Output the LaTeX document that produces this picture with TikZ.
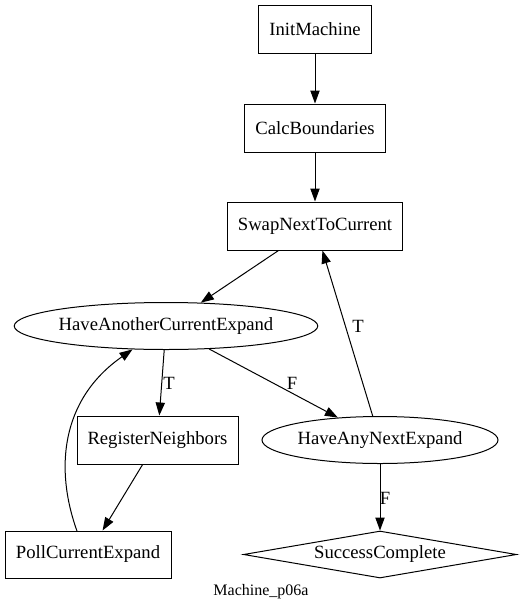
\documentclass[tikz,border=0pt]{standalone}
\usepackage{fontspec}
\setmainfont{Liberation Serif}
\usetikzlibrary{shapes.geometric,arrows.meta}
\begin{document}
\begin{tikzpicture}[x=1pt,y=-1pt,
  every node/.style={font=\fontsize{18.67}{22}\selectfont, inner sep=0pt},
  box/.style={draw, line width=1pt, rectangle},
  oval/.style={draw, line width=1pt, ellipse},
  dia/.style={draw, line width=1pt, diamond, aspect=5.8},
  edge/.style={line width=1pt, -{Triangle[length=13pt,width=9.3pt]}},
  lbl/.style={},
  caption/.style={font=\fontsize{16}{19}\selectfont}]
\useasboundingbox (0,0) rectangle (521,611);
\node[box, minimum width=113pt, minimum height=48pt] (init) at (315,29) {InitMachine};
\node[box, minimum width=141pt, minimum height=48pt] (calc) at (315,128) {CalcBoundaries};
\node[box, minimum width=175pt, minimum height=48pt] (swap) at (315,226) {SwapNextToCurrent};
\node[oval, minimum width=298pt, minimum height=47pt] (hac) at (166,326) {HaveAnotherCurrentExpand};
\node[box, minimum width=161pt, minimum height=48pt] (reg) at (157.5,440) {RegisterNeighbors};
\node[oval, minimum width=236pt, minimum height=47pt] (han) at (380,440) {HaveAnyNextExpand};
\node[box, minimum width=166pt, minimum height=47pt] (poll) at (88,554.5) {PollCurrentExpand};
\node[dia, minimum width=273pt, minimum height=47pt] (succ) at (380,554.5) {SuccessComplete};
\node[caption] (cap) at (261,592) {Machine\_p06a};

\draw[edge] (init) -- (calc);
\draw[edge] (calc) -- (swap);
\draw[edge] (swap) -- (hac);
\draw[edge] (hac) -- (reg);
\draw[edge] (hac) -- (han);
\draw[edge] (reg) -- (poll);
\coordinate (pstart) at (77,531);
\draw[edge] (pstart) .. controls (55,470) and (60,400) .. (hac);
\draw[edge] (han) -- (swap);
\draw[edge] (han) -- (succ);

\node[lbl] (t1) at (169,383) {T};
\node[lbl] (f1) at (292,383) {F};
\node[lbl] (t2) at (358,326) {T};
\node[lbl] (f2) at (385,498) {F};
\end{tikzpicture}
\end{document}
